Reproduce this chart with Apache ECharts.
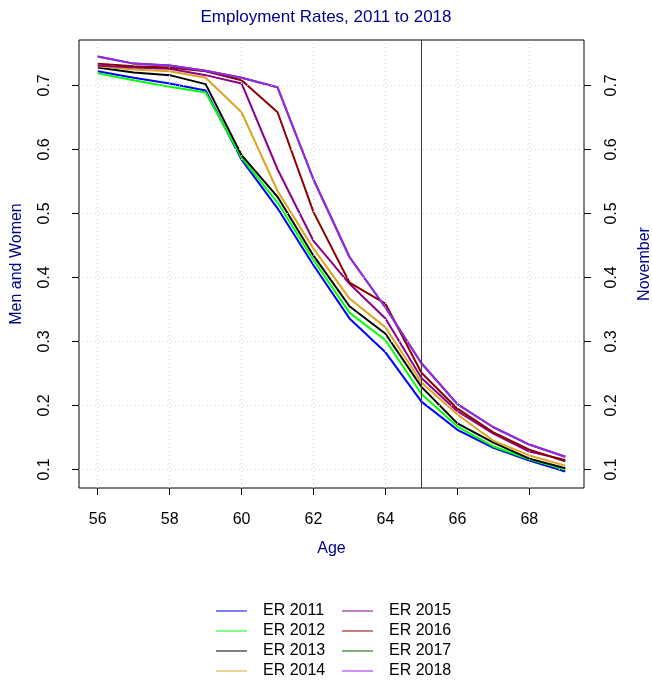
<!DOCTYPE html>
<html>
<head>
<meta charset="utf-8">
<script src="https://cdn.jsdelivr.net/npm/echarts@6/dist/echarts.min.js"></script>
<style>
  html, body { margin: 0; padding: 0; background: #ffffff; }
  #chart { width: 652px; height: 682px; }
</style>
</head>
<body>
<div id="chart"></div>
<script>
// Employment rate by single year of age, November of each year
const ages = [56, 57, 58, 59, 60, 61, 62, 63, 64, 65, 66, 67, 68, 69];

const er2011 = [0.722, 0.712, 0.703, 0.692, 0.584, 0.508, 0.419, 0.336, 0.283, 0.206, 0.162, 0.134, 0.114, 0.097];
const er2012 = [0.719, 0.708, 0.698, 0.689, 0.587, 0.517, 0.427, 0.345, 0.302, 0.218, 0.167, 0.136, 0.116, 0.100];
const er2013 = [0.728, 0.720, 0.716, 0.702, 0.591, 0.526, 0.434, 0.355, 0.312, 0.229, 0.172, 0.142, 0.117, 0.102];
const er2014 = [0.730, 0.725, 0.722, 0.712, 0.658, 0.535, 0.445, 0.367, 0.322, 0.236, 0.186, 0.145, 0.122, 0.106];
const er2015 = [0.731, 0.728, 0.726, 0.716, 0.703, 0.569, 0.457, 0.390, 0.336, 0.243, 0.191, 0.156, 0.128, 0.115];
const er2016 = [0.734, 0.730, 0.728, 0.722, 0.708, 0.658, 0.502, 0.392, 0.359, 0.251, 0.195, 0.158, 0.131, 0.113];
const er2017 = [0.745, 0.734, 0.731, 0.723, 0.712, 0.697, 0.553, 0.432, 0.353, 0.266, 0.202, 0.166, 0.139, 0.120];
const er2018 = [0.745, 0.734, 0.731, 0.723, 0.712, 0.697, 0.553, 0.432, 0.353, 0.266, 0.202, 0.166, 0.139, 0.120];

const seriesNames = ['ER 2011', 'ER 2012', 'ER 2013', 'ER 2014', 'ER 2015', 'ER 2016', 'ER 2017', 'ER 2018'];
const seriesValues = [er2011, er2012, er2013, er2014, er2015, er2016, er2017, er2018];
const seriesColors = ['#0000FF', '#00FF00', '#000000', '#DAA520', '#8B008B', '#8B0000', '#006400', '#A020F0'];

const xTicks = [56, 58, 60, 62, 64, 66, 68];
const yTicks = [0.1, 0.2, 0.3, 0.4, 0.5, 0.6, 0.7];
const referenceAge = 65;

const xMin = 55.48, xMax = 69.52;
const yMin = 0.0711, yMax = 0.7709;

const FONT = '"Liberation Sans", Arial, Helvetica, sans-serif';
const TITLE_BLUE = '#00008B';
const FS = 16;

const chart = echarts.init(document.getElementById('chart'), null, { renderer: 'canvas' });

const lineSeries = seriesNames.map((name, i) => ({
  name: name,
  type: 'line',
  data: ages.map((a, j) => [a, seriesValues[i][j]]),
  symbol: 'none',
  lineStyle: { color: seriesColors[i], width: 2 },
  itemStyle: { color: seriesColors[i] },
  z: 3,
  silent: true
}));

// dotted background grid and the vertical reference line
const gridSeries = {
  name: '__grid',
  type: 'line',
  data: [],
  z: 1,
  silent: true,
  markLine: {
    silent: true,
    symbol: 'none',
    label: { show: false },
    lineStyle: { color: '#D3D3D3', type: [1, 3], width: 1 },
    data: xTicks.map(v => ({ xAxis: v })).concat(yTicks.map(v => ({ yAxis: v })))
  }
};
const refSeries = {
  name: '__ref',
  type: 'line',
  data: [],
  z: 4,
  silent: true,
  markLine: {
    silent: true,
    symbol: 'none',
    label: { show: false },
    lineStyle: { color: '#3a3a3a', type: 'solid', width: 1 },
    data: [{ xAxis: referenceAge }]
  }
};

const yAxisCommon = {
  type: 'value',
  min: yMin,
  max: yMax,
  nameLocation: 'middle',
  nameTextStyle: { color: TITLE_BLUE, fontFamily: FONT, fontSize: FS },
  axisLine: { show: false },
  splitLine: { show: false },
  axisTick: { show: true, inside: false, length: 7, customValues: yTicks, lineStyle: { color: '#000', width: 1 } },
  axisLabel: {
    customValues: yTicks,
    rotate: 90,
    color: '#000',
    fontFamily: FONT,
    fontSize: FS,
    formatter: v => v.toFixed(1)
  }
};

const legendCommon = {
  orient: 'vertical',
  icon: 'rect',
  itemWidth: 31,
  itemHeight: 1,
  itemGap: 4,
  padding: 0,
  selectedMode: false,
  textStyle: { fontFamily: FONT, fontSize: FS, color: '#000', padding: [0, 0, 0, 11], lineHeight: 16 }
};

chart.setOption({
  animation: false,
  backgroundColor: '#ffffff',
  title: {
    text: 'Employment Rates, 2011 to 2018',
    left: 'center',
    top: 4,
    textStyle: { color: TITLE_BLUE, fontFamily: FONT, fontSize: 17, fontWeight: 'normal' }
  },
  grid: {
    left: 79, right: 68, top: 40, bottom: 194,
    containLabel: false,
    outerBoundsMode: 'none',
    show: true, borderColor: '#000', borderWidth: 1, backgroundColor: 'transparent'
  },
  legend: [
    Object.assign({}, legendCommon, { left: 216, top: 603, data: seriesNames.slice(0, 4) }),
    Object.assign({}, legendCommon, { left: 342, top: 603, data: seriesNames.slice(4, 8) })
  ],
  xAxis: {
    type: 'value',
    min: xMin,
    max: xMax,
    name: 'Age',
    nameLocation: 'middle',
    nameGap: 53,
    nameTextStyle: { color: TITLE_BLUE, fontFamily: FONT, fontSize: FS },
    axisLine: { show: false },
    splitLine: { show: false },
    axisTick: { show: true, inside: false, length: 7, customValues: xTicks, lineStyle: { color: '#000', width: 1 } },
    axisLabel: { customValues: xTicks, margin: 24, color: '#000', fontFamily: FONT, fontSize: FS }
  },
  yAxis: [
    Object.assign({}, yAxisCommon, {
      position: 'left', name: 'Men and Women', nameGap: 54,
      axisLabel: Object.assign({}, yAxisCommon.axisLabel, { margin: 26 })
    }),
    Object.assign({}, yAxisCommon, {
      position: 'right', name: 'November', nameGap: 53,
      axisLabel: Object.assign({}, yAxisCommon.axisLabel, { margin: 20 })
    })
  ],
  series: [gridSeries].concat(lineSeries, [refSeries])
});
</script>
</body>
</html>
